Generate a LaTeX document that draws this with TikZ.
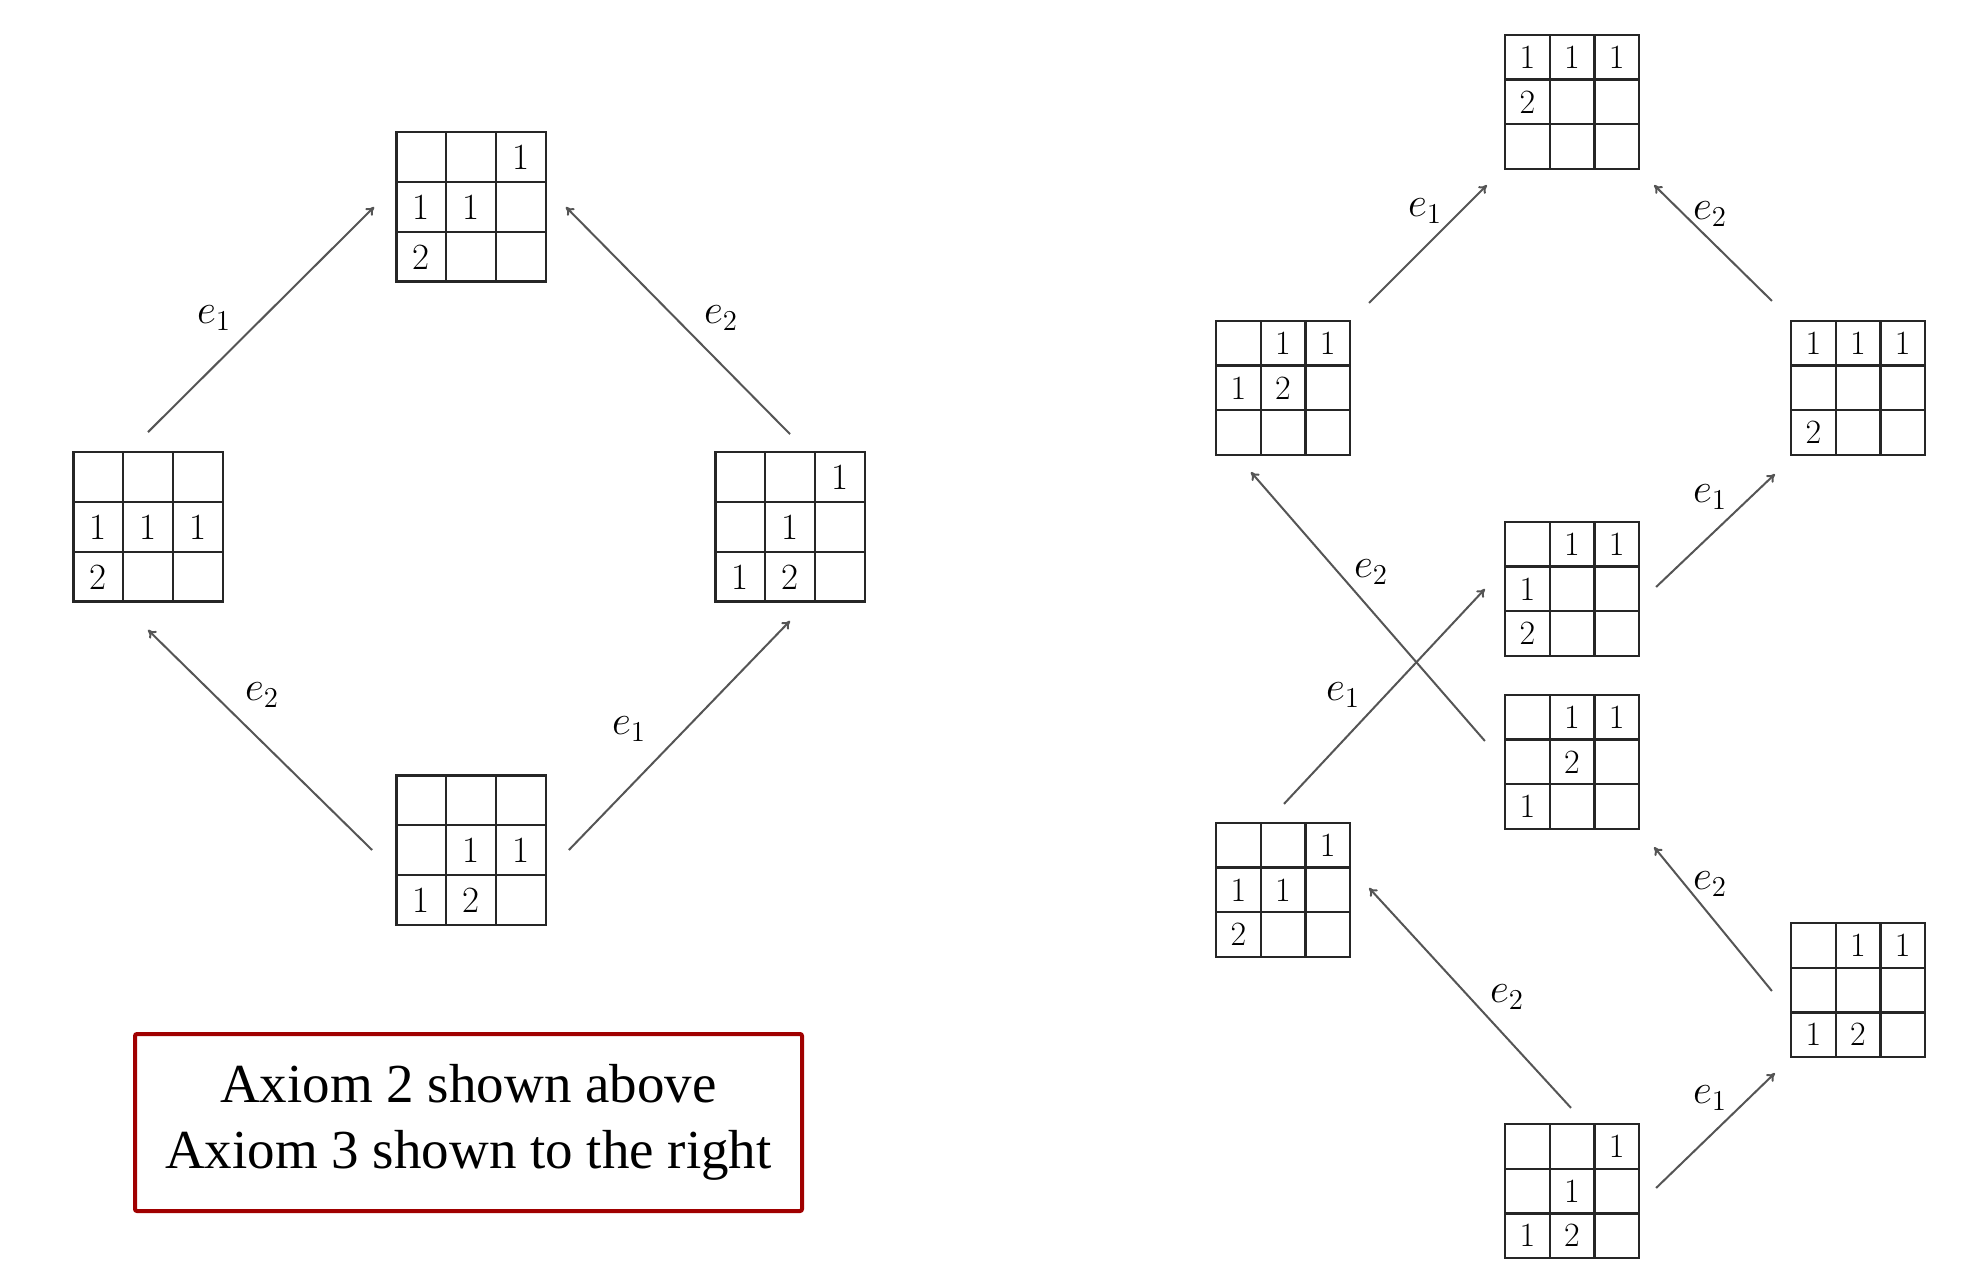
\documentclass[tikz,border=0pt]{standalone}
\usepackage{fontspec}
\newfontfamily\boxfont{Liberation Serif}
\usetikzlibrary{matrix,arrows.meta}
\definecolor{axred}{RGB}{160,0,0}
\definecolor{arrgray}{RGB}{85,85,85}
\begin{document}
\begin{tikzpicture}[x=0.5pt,y=-0.5pt,
 bigtab/.style={matrix of nodes, nodes in empty cells, inner sep=0pt, outer sep=0pt,
   column sep=-1.2pt, row sep=-1.2pt,
   nodes={draw=black!85, line width=1.2pt, minimum size=24.9pt, inner sep=0pt, anchor=center,
          font=\fontsize{18.5}{20}\selectfont}},
 smalltab/.style={matrix of nodes, nodes in empty cells, inner sep=0pt, outer sep=0pt,
   column sep=-1.2pt, row sep=-1.2pt,
   nodes={draw=black!85, line width=1.2pt, minimum size=22.3pt, inner sep=0pt, anchor=center,
          font=\fontsize{17}{18}\selectfont}},
 arr/.style={-{To[length=4pt,width=5pt]}, draw=arrgray, line width=1pt},
 lab/.style={font=\fontsize{22}{26}\selectfont, inner sep=0pt},
]
\useasboundingbox (0,0) rectangle (1972,1261);
% ---------- left diamond ----------
\matrix (T) [bigtab] at (471,207) { & & 1 \\ 1 & 1 & \\ 2 & & \\ };
\matrix (L) [bigtab] at (148,527) { & & \\ 1 & 1 & 1 \\ 2 & & \\ };
\matrix (R) [bigtab] at (790,527) { & & 1 \\ & 1 & \\ 1 & 2 & \\ };
\matrix (B) [bigtab] at (471,850) { & & \\ & 1 & 1 \\ 1 & 2 & \\ };

\draw[arr] ([yshift=9.5pt]L.north) -- ([xshift=-10.5pt]T.west);
\draw[arr] ([yshift=8.5pt]R.north) -- ([xshift=9.5pt]T.east);
\draw[arr] ([xshift=-11.5pt]B.west) -- ([yshift=-13.5pt]L.south);
\draw[arr] ([xshift=11pt]B.east) -- ([yshift=-9pt]R.south);

\node[lab] (l1) at (214,318) {$e_1$};
\node[lab] (l2) at (721,318) {$e_2$};
\node[lab] (l3) at (262,695) {$e_2$};
\node[lab] (l4) at (629,729) {$e_1$};

\node (box) [draw=axred, line width=2pt, rounded corners=1pt, minimum width=333.5pt,
  minimum height=88.5pt, align=center, font=\boxfont\fontsize{27.5}{33}\selectfont]
  at (468.5,1122.5) {Axiom 2 shown above\\Axiom 3 shown to the right};

% ---------- right lattice ----------
\matrix (T1) [smalltab] at (1572,102) { 1 & 1 & 1 \\ 2 & & \\ & & \\ };
\matrix (T2) [smalltab] at (1283,388) { & 1 & 1 \\ 1 & 2 & \\ & & \\ };
\matrix (T3) [smalltab] at (1858,388) { 1 & 1 & 1 \\ & & \\ 2 & & \\ };
\matrix (T4) [smalltab] at (1572,589) { & 1 & 1 \\ 1 & & \\ 2 & & \\ };
\matrix (T5) [smalltab] at (1572,762) { & 1 & 1 \\ & 2 & \\ 1 & & \\ };
\matrix (T6) [smalltab] at (1283,890) { & & 1 \\ 1 & 1 & \\ 2 & & \\ };
\matrix (T7) [smalltab] at (1858,990) { & 1 & 1 \\ & & \\ 1 & 2 & \\ };
\matrix (T8) [smalltab] at (1572,1191) { & & 1 \\ & 1 & \\ 1 & 2 & \\ };

\draw[arr] ([xshift=9pt,yshift=8.5pt]T2.north east) -- ([xshift=-8.5pt,yshift=-7.5pt]T1.south west);
\draw[arr] ([xshift=-9pt,yshift=9.5pt]T3.north west) -- ([xshift=7pt,yshift=-7.5pt]T1.south east);
\draw[arr] ([xshift=8pt,yshift=1pt]T4.east) -- ([xshift=-7.5pt,yshift=-9pt]T3.south west);
\draw[arr] ([xshift=-9.5pt,yshift=10.5pt]T5.west) -- ([xshift=-16pt,yshift=-8pt]T2.south);
\draw[arr] ([xshift=0.5pt,yshift=9pt]T6.north) -- ([xshift=-9.5pt]T4.west);
\draw[arr] ([xshift=-9pt,yshift=-0.5pt]T7.west) -- ([xshift=7pt,yshift=-8.5pt]T5.south east);
\draw[arr] ([xshift=-0.5pt,yshift=7.5pt]T8.north) -- ([xshift=9pt,yshift=1pt]T6.east);
\draw[arr] ([xshift=8pt,yshift=1.5pt]T8.east) -- ([xshift=-7.5pt,yshift=-7.5pt]T7.south west);

\node[lab] (ra) at (1425,211) {$e_1$};
\node[lab] (rb) at (1710,214) {$e_2$};
\node[lab] (rc) at (1710,497) {$e_1$};
\node[lab] (rd) at (1371,572) {$e_2$};
\node[lab] (re) at (1343,695) {$e_1$};
\node[lab] (rf) at (1710,884) {$e_2$};
\node[lab] (rg) at (1507,997) {$e_2$};
\node[lab] (rh) at (1710,1098) {$e_1$};
\end{tikzpicture}
\end{document}
